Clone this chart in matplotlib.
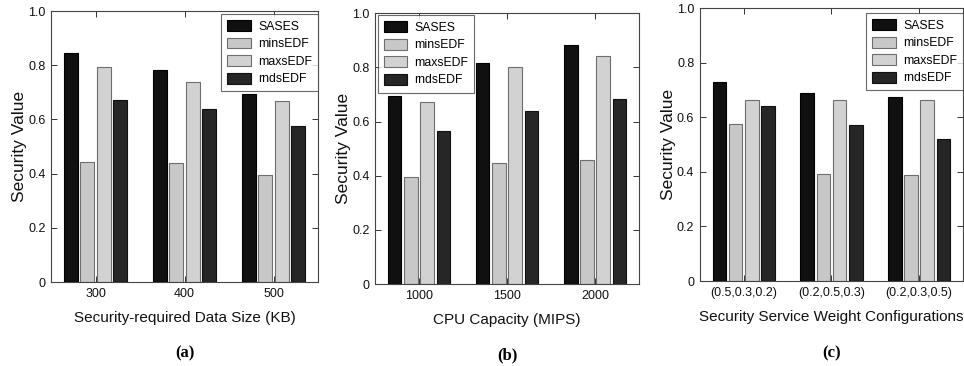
import matplotlib.pyplot as plt
from matplotlib import font_manager
import numpy as np

plt.rcParams['font.family'] = ['Liberation Sans', 'DejaVu Sans']

# legend text in the reference is a little condensed
names = {f.name for f in font_manager.fontManager.ttflist}
if 'Liberation Sans Narrow' in names:
    leg_font = {'family': 'Liberation Sans Narrow', 'size': 10}
else:
    leg_font = {'family': 'Liberation Sans', 'size': 8.8}

series = ['SASES', 'minsEDF', 'maxsEDF', 'rndsEDF']
colors = ['#101010', '#c8c8c8', '#d2d2d2', '#262626']
edges = ['#000000', '#6e6e6e', '#6e6e6e', '#101010']

# panel (a)
sizes = ['300', '400', '500']
a_sases = [0.844, 0.784, 0.693]
a_mins = [0.443, 0.438, 0.395]
a_maxs = [0.795, 0.737, 0.670]
a_rnds = [0.671, 0.639, 0.577]

# panel (b)
cpus = ['1000', '1500', '2000']
b_sases = [0.696, 0.817, 0.884]
b_mins = [0.395, 0.448, 0.457]
b_maxs = [0.671, 0.802, 0.841]
b_rnds = [0.565, 0.637, 0.683]

# panel (c)
weights = ['(0.5,0.3,0.2)', '(0.2,0.5,0.3)', '(0.2,0.3,0.5)']
c_sases = [0.728, 0.688, 0.676]
c_mins = [0.577, 0.393, 0.389]
c_maxs = [0.664, 0.664, 0.664]
c_rnds = [0.641, 0.572, 0.521]

panels = [
    (sizes, [a_sases, a_mins, a_maxs, a_rnds], 'Security-required Data Size (KB)', '(a)',
     [0.0529, 0.2295, 0.277, 0.740], 'upper right', (1.0, 0.99)),
    (cpus, [b_sases, b_mins, b_maxs, b_rnds], 'CPU Capacity (MIPS)', '(b)',
     [0.389, 0.224, 0.274, 0.740], 'upper left', (0.01, 0.993)),
    (weights, [c_sases, c_mins, c_maxs, c_rnds], 'Security Service Weight Configurations', '(c)',
     [0.726, 0.232, 0.273, 0.746], 'upper right', (1.0, 0.982)),
]

fig = plt.figure(figsize=(9.64, 3.66), dpi=100)

step = 0.185
width = 0.155
for cats, vals, xlab, tag, pos, loc, anchor in panels:
    ax = fig.add_axes(pos)
    x = np.arange(1, len(cats) + 1)
    for i, v in enumerate(vals):
        ax.bar(x + (i - 1.5) * step, v, width, color=colors[i], edgecolor=edges[i],
               linewidth=0.8, label=series[i])
    ax.set_xlim(0.5, 3.5)
    ax.set_ylim(0, 1.0)
    ax.set_xticks(x)
    ax.set_xticklabels(cats)
    ax.set_yticks([0, 0.2, 0.4, 0.6, 0.8, 1.0])
    ax.set_yticklabels(['0', '0.2', '0.4', '0.6', '0.8', '1.0'])
    ax.tick_params(direction='in', top=True, right=True, length=4, width=0.7,
                   labelsize=9, colors='#333333', labelcolor='#111111', pad=4)
    for s in ax.spines.values():
        s.set_color('#444444')
        s.set_linewidth(0.8)
    ax.set_ylabel('Security Value', fontsize=12.5, color='#111111', labelpad=1)
    ax.set_xlabel(xlab, fontsize=11, color='#111111', labelpad=8)
    leg = ax.legend(loc=loc, bbox_to_anchor=anchor, prop=leg_font, frameon=True,
                    fancybox=False, handlelength=1.9, handleheight=1.0,
                    labelspacing=0.4, borderpad=0.5, handletextpad=0.6,
                    borderaxespad=0.0)
    leg.get_frame().set_edgecolor('#444444')
    leg.get_frame().set_linewidth(0.8)
    ax.text(0.5, -0.265, tag, transform=ax.transAxes, ha='center', va='center',
            fontsize=12, fontweight='bold', family='Liberation Serif')

fig.savefig('out.png', dpi=100)
